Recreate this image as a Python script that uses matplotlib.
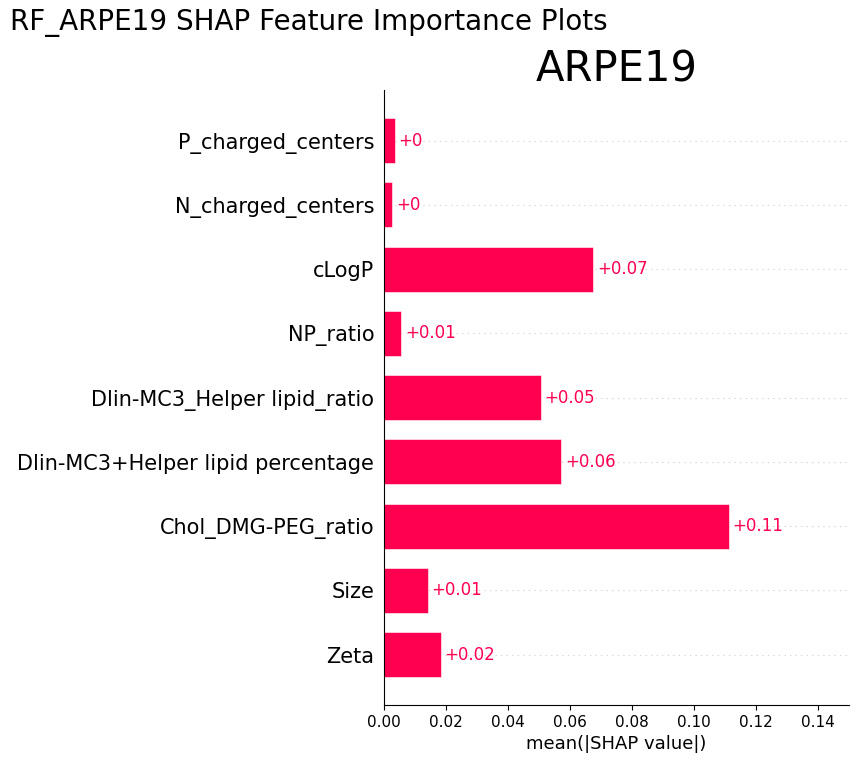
import matplotlib
matplotlib.use("Agg")
import matplotlib.pyplot as plt

# features from bottom to top
features = ["Zeta", "Size", "Chol_DMG-PEG_ratio", "Dlin-MC3+Helper lipid percentage",
            "Dlin-MC3_Helper lipid_ratio", "NP_ratio", "cLogP",
            "N_charged_centers", "P_charged_centers"]
shap_vals = [0.0183, 0.0141, 0.1112, 0.0571, 0.0505, 0.0056, 0.0675, 0.0027, 0.0034]

red = "#ff0051"

fig = plt.figure(figsize=(8.58, 7.64), dpi=100)
ax = fig.add_axes([0.4476, 0.0772, 0.5419, 0.8048])

ypos = list(range(len(features)))
for y in ypos:
    ax.axhline(y, color="#cccccc", lw=0.8, dashes=(1, 4), zorder=-1)
ax.barh(ypos, shap_vals, height=0.7, color=red, edgecolor=(1, 1, 1, 0.8), lw=0.5)

for y, v in zip(ypos, shap_vals):
    txt = "%+.2f" % v
    txt = txt.rstrip("0").rstrip(".")
    ax.text(v + 0.0012, y, txt, ha="left", va="center", color=red, fontsize=12)

ax.set_yticks(ypos)
ax.set_yticklabels(features, fontsize=15)
ax.tick_params(axis="y", length=0, pad=7)
ax.tick_params(axis="x", labelsize=11)
ax.set_xlim(0, 0.15)
ax.set_xticks([0, 0.02, 0.04, 0.06, 0.08, 0.10, 0.12, 0.14])
ax.set_xlabel("mean(|SHAP value|)", fontsize=13)
ax.spines["right"].set_visible(False)
ax.spines["top"].set_visible(False)

ax.set_title("ARPE19", fontsize=30, pad=5)
fig.suptitle("RF_ARPE19 SHAP Feature Importance Plots", x=0.012, y=0.99, ha="left", fontsize=20)

plt.savefig("out.png")
